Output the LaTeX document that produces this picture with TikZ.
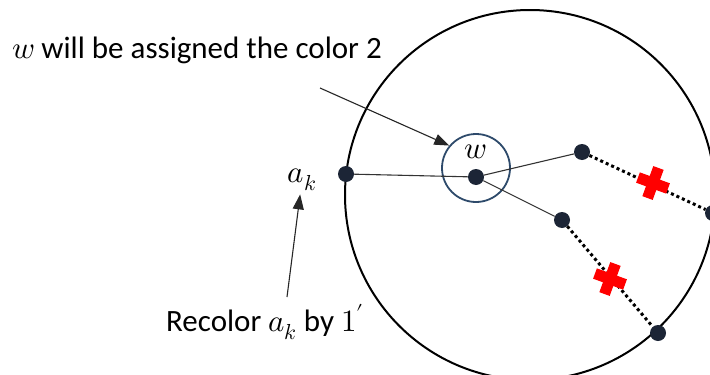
\documentclass[tikz,border=0pt]{standalone}
\usepackage{amsmath}
\usepackage{fontspec}
\usepackage{unicode-math}
\setmainfont{Carlito}
\setmathfont{Latin Modern Math}
\usetikzlibrary{arrows.meta}
\definecolor{dotnavy}{HTML}{1C2536}
\definecolor{ringblue}{HTML}{2E4A6B}

\begin{document}
\begin{tikzpicture}[x=1pt, y=-1pt,
  every node/.style={font=\fontsize{31}{37}\selectfont},
  vdot/.style={circle, fill=dotnavy, inner sep=0pt, minimum size=16pt},
  thinedge/.style={draw=black!80, line width=1.1pt},
  cutedge/.style={draw=black, line width=3pt, dash pattern=on 3pt off 3pt},
  pointer/.style={draw=black!85, line width=1.1pt, -{Triangle[length=15pt, width=11pt]}},
  xmark/.pic={\fill[red] (-16,-5.5) rectangle (16,5.5); \fill[red] (-5.5,-16) rectangle (5.5,16);}]
\useasboundingbox (0,0) rectangle (710,375);
\fill[white] (0,0) rectangle (710,375);
% big disk
\coordinate (ctr) at (530,195);
\draw[black, line width=2pt] (ctr) circle[radius=185];
% vertices
\node[vdot] (ak) at (346,174) {};
\node[vdot] (w) at (476,177) {};
\node[vdot] (u1) at (582,152) {};
\node[vdot] (u2) at (562,220) {};
\node[vdot] (v1) at (713,213) {};
\node[vdot] (v2) at (658,333) {};
\node[draw=ringblue, line width=1.8pt, circle, minimum size=68pt, inner sep=0pt] (wring) at (476,168) {};
\node (wlbl) at (476,152) {$w$};
% edges
\draw[thinedge] (ak) -- (w);
\draw[thinedge] (w) -- (u1);
\draw[thinedge] (w) -- (u2);
\draw[cutedge] (u1) -- (v1);
\draw[cutedge] (u2) -- (v2);
\pic[rotate=-20] at (653,183) {xmark};
\pic[rotate=-20] at (610,279) {xmark};
% labels
\node (aklbl) at (302,180) {$a_k$};
\node (top) at (197,50) {$w$ will be assigned the color 2};
\node (bot) at (265,322) {Recolor $a_k$ by $1'$};
\coordinate (p1) at (320,88);
\coordinate (p2) at (287,297);
\draw[pointer] (p1) -- (wring.140);
\draw[pointer] (p2) -- (aklbl);
\end{tikzpicture}
\end{document}
